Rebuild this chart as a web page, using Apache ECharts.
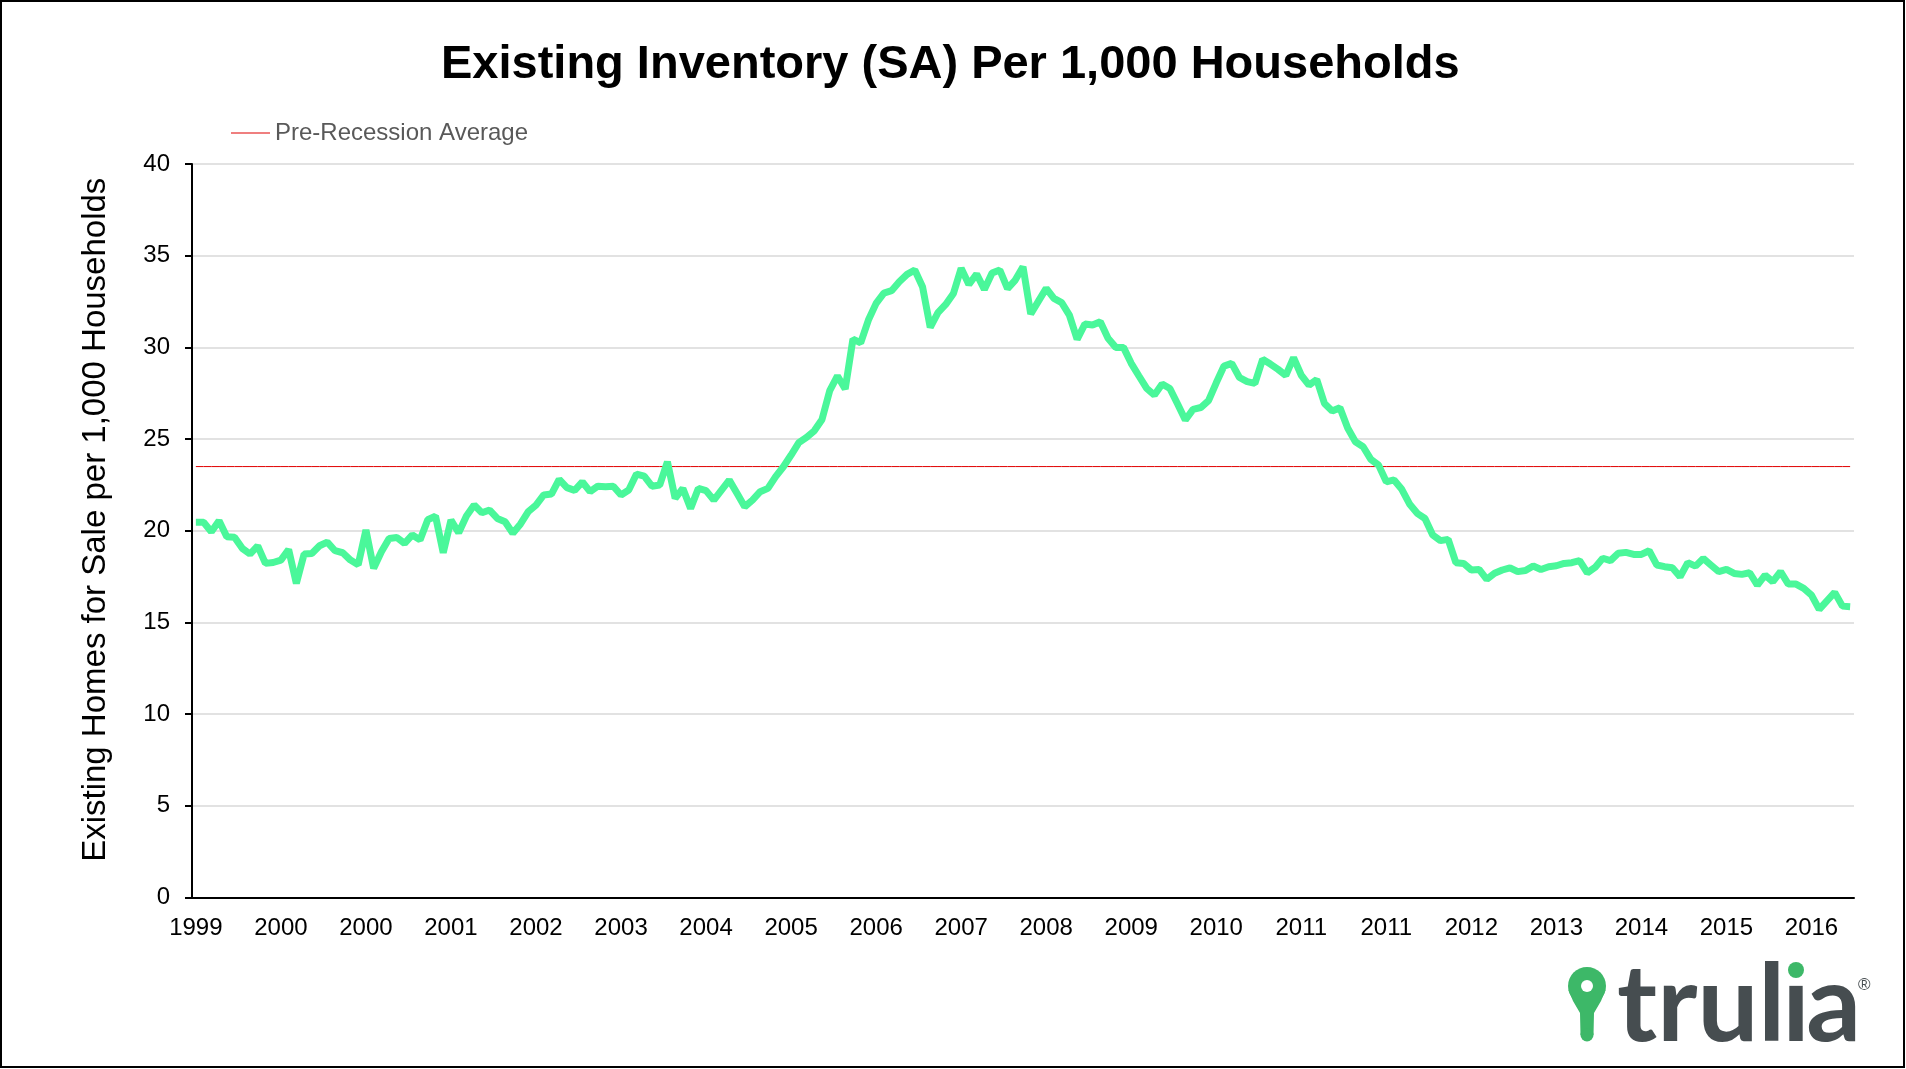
<!DOCTYPE html>
<html><head><meta charset="utf-8">
<script src="https://cdn.jsdelivr.net/npm/echarts@6/dist/echarts.min.js"></script>
<style>html,body{margin:0;padding:0;background:#fff}#c{width:1906px;height:1069px}</style>
</head><body><div id="c"></div>
<script>
// ---- data (monthly, starting Feb 1999) ----
const startYear = 1999;
const startMonth = 2;
const inventory = [
  20.46, 20.46, 19.95, 20.55, 19.67, 19.64, 19.04, 18.73, 19.18, 18.22,
  18.27, 18.40, 18.98, 17.13, 18.73, 18.76, 19.18, 19.38, 18.91, 18.80,
  18.40, 18.15, 20.04, 17.95, 18.85, 19.58, 19.63, 19.31, 19.77, 19.50,
  20.60, 20.80, 18.80, 20.58, 19.89, 20.80, 21.40, 20.98, 21.13, 20.67,
  20.49, 19.86, 20.37, 21.04, 21.40, 21.95, 22.00, 22.80, 22.35, 22.20,
  22.66, 22.13, 22.43, 22.40, 22.43, 21.95, 22.22, 23.09, 22.98, 22.43,
  22.49, 23.76, 21.77, 22.31, 21.22, 22.31, 22.19, 21.67, 22.22, 22.76,
  22.04, 21.31, 21.67, 22.13, 22.31, 22.95, 23.49, 24.13, 24.80, 25.09,
  25.45, 26.07, 27.64, 28.44, 27.73, 30.45, 30.25, 31.49, 32.40, 32.96,
  33.09, 33.58, 33.98, 34.22, 33.31, 31.09, 31.89, 32.34, 32.94, 34.31,
  33.43, 34.00, 33.16, 34.05, 34.22, 33.20, 33.67, 34.40, 31.82, 32.52,
  33.22, 32.67, 32.44, 31.76, 30.44, 31.27, 31.22, 31.40, 30.50, 30.00,
  30.00, 29.13, 28.44, 27.76, 27.40, 28.00, 27.76, 26.91, 26.04, 26.62,
  26.72, 27.09, 28.07, 28.98, 29.13, 28.36, 28.13, 28.04, 29.35, 29.09,
  28.80, 28.47, 29.44, 28.48, 27.94, 28.25, 26.94, 26.53, 26.71, 25.60,
  24.85, 24.58, 23.89, 23.58, 22.67, 22.77, 22.26, 21.46, 20.95, 20.67,
  19.77, 19.46, 19.53, 18.26, 18.22, 17.86, 17.89, 17.35, 17.68, 17.86,
  17.98, 17.77, 17.83, 18.08, 17.89, 18.04, 18.09, 18.22, 18.26, 18.37,
  17.71, 18.00, 18.50, 18.37, 18.77, 18.82, 18.71, 18.71, 18.91, 18.13,
  18.04, 17.98, 17.49, 18.26, 18.07, 18.49, 18.13, 17.77, 17.89, 17.67,
  17.62, 17.71, 17.04, 17.58, 17.22, 17.77, 17.09, 17.09, 16.86, 16.49,
  15.71, 16.18, 16.64, 15.89, 15.86
];
const preRecessionAverage = 23.5;
const yMin = 0, yMax = 40, yInterval = 5;
const labelEvery = 11;  // Excel label interval (categories)
const tickEvery = 12;   // Excel tick-mark interval (categories)

const categories = inventory.map(function (_, i) {
  const m = startMonth - 1 + i;
  return (startYear + Math.floor(m / 12)) + '-' + String(m % 12 + 1).padStart(2, '0');
});
const avgLine = categories.map(function () { return preRecessionAverage; });

const FONT = '"Liberation Sans", Arial, Helvetica, sans-serif';
const LOGO_FONT = 'Lato, "Open Sans", sans-serif';
const chart = echarts.init(document.getElementById('c'), null, {renderer: 'canvas'});
chart.setOption({
  animation: false,
  backgroundColor: '#fff',
  textStyle: {fontFamily: FONT},
  title: {
    text: 'Existing Inventory (SA) Per 1,000 Households',
    left: 436, top: 37,
    textStyle: {fontSize: 47, fontWeight: 'bold', color: '#000', fontFamily: FONT}
  },
  legend: {
    data: [{name: 'Pre-Recession Average', icon: 'rect'}],
    left: 226, top: 116,
    itemWidth: 39, itemHeight: 1.2, itemGap: 10,
    selectedMode: false,
    textStyle: {fontSize: 24, color: '#595959', fontFamily: FONT}
  },
  grid: {left: 192, right: 52, top: 164, bottom: 171.5, containLabel: false, outerBoundsMode: 'none'},
  xAxis: {
    type: 'category', data: categories, boundaryGap: true,
    axisLine: {lineStyle: {color: '#000', width: 2}},
    axisTick: {interval: tickEvery - 1, length: 7, lineStyle: {color: '#000', width: 2}},
    axisLabel: {interval: labelEvery - 1, formatter: function (v) { return v.slice(0, 4); },
      fontSize: 24, color: '#000', margin: 19, fontFamily: FONT},
    splitLine: {show: false}
  },
  yAxis: {
    type: 'value', min: yMin, max: yMax, interval: yInterval,
    name: 'Existing Homes for Sale per 1,000 Households',
    nameLocation: 'middle', nameGap: 80,
    nameTextStyle: {fontSize: 33, color: '#000', fontFamily: FONT, padding: [0, 0, 0, 22]},
    axisLine: {show: true, lineStyle: {color: '#000', width: 2}},
    axisTick: {show: true, length: 7, lineStyle: {color: '#000', width: 2}},
    axisLabel: {fontSize: 24, color: '#000', margin: 22, fontFamily: FONT},
    splitLine: {lineStyle: {color: '#D9D9D9', width: 1.5}}
  },
  series: [
    {
      name: 'Pre-Recession Average', type: 'line', data: avgLine,
      symbol: 'none', silent: true, z: 2,
      lineStyle: {color: '#E00000', width: 1}, itemStyle: {color: '#E00000'},
      emphasis: {disabled: true}
    },
    {
      name: 'Existing Inventory', type: 'line', data: inventory,
      symbol: 'none', silent: true, z: 3,
      lineStyle: {color: '#4AF79A', width: 7}, itemStyle: {color: '#4AF79A'},
      emphasis: {disabled: true}
    }
  ],
  graphic: [
    {type: 'rect', silent: true, z: 100,
      shape: {x: 1, y: 1, width: 1903, height: 1066},
      style: {fill: 'none', stroke: '#000', lineWidth: 2}},
    {type: 'circle', silent: true, z: 100,
      shape: {cx: 1587, cy: 986, r: 19}, style: {fill: '#3DB868'}},
    {type: 'polygon', silent: true, z: 100,
      shape: {points: [[1568.5, 990], [1605.5, 990], [1601, 1001], [1594, 1013], [1593.5, 1035], [1580.5, 1035], [1580, 1013], [1573, 1001]]},
      style: {fill: '#3DB868'}},
    {type: 'circle', silent: true, z: 100,
      shape: {cx: 1587, cy: 1035, r: 6.5}, style: {fill: '#3DB868'}},
    {type: 'circle', silent: true, z: 101,
      shape: {cx: 1587, cy: 986, r: 6}, style: {fill: '#fff'}},
    {type: 'text', silent: true, z: 100,
      style: {text: 'trul', x: 1617, y: 1060, textVerticalAlign: 'bottom',
        fontSize: 108, fontWeight: 'bold', fontFamily: LOGO_FONT, fill: '#464D50'}},
    {type: 'text', silent: true, z: 100,
      style: {text: '\u0131', x: 1796, y: 1060, textAlign: 'center', textVerticalAlign: 'bottom',
        fontSize: 108, fontWeight: 'bold', fontFamily: LOGO_FONT, fill: '#464D50'}},
    {type: 'text', silent: true, z: 100,
      style: {text: 'a', x: 1861, y: 1060, textAlign: 'right', textVerticalAlign: 'bottom',
        fontSize: 108, fontWeight: 'bold', fontFamily: LOGO_FONT, fill: '#464D50'}},
    {type: 'circle', silent: true, z: 101,
      shape: {cx: 1796, cy: 970, r: 8}, style: {fill: '#3DB868'}},
    {type: 'text', silent: true, z: 100,
      style: {text: '\u00AE', x: 1858, y: 977, fontSize: 17, fontFamily: FONT, fill: '#464D50'}}
  ]
});
</script>
</body></html>
